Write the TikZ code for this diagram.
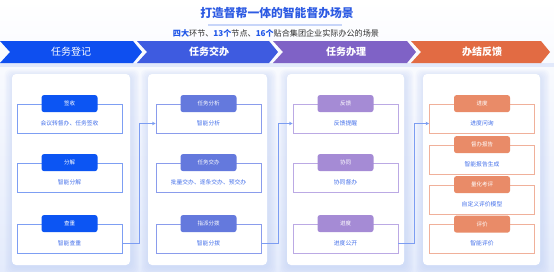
\documentclass[tikz,border=0pt]{standalone}
\usepackage{fontspec}
\setmainfont{Noto Sans CJK SC}
\usetikzlibrary{arrows.meta, positioning, calc}

\definecolor{titleblue}{HTML}{2D5BE3}
\definecolor{hlblue}{HTML}{1F56E8}
\definecolor{subgray}{HTML}{2E2E2E}
\definecolor{bgblue}{HTML}{E4EBFC}
\definecolor{shadowblue}{HTML}{B9CBF7}
\definecolor{descblue}{HTML}{4470EA}
\definecolor{linkblue}{HTML}{7C9DF2}
% column colours: chevron, tag, frame
\definecolor{chevA}{HTML}{0E4FF0}
\definecolor{chevB}{HTML}{3E5BE0}
\definecolor{chevC}{HTML}{7F62C6}
\definecolor{chevD}{HTML}{E26B43}
\definecolor{tagA}{HTML}{0C55F3}
\definecolor{tagB}{HTML}{6479DD}
\definecolor{tagC}{HTML}{A58BD5}
\definecolor{tagD}{HTML}{E98B68}
\definecolor{frameA}{HTML}{7D9EF3}
\definecolor{frameB}{HTML}{8A9CEC}
\definecolor{frameC}{HTML}{BBA9E4}
\definecolor{frameD}{HTML}{F0B09A}

\begin{document}
\begin{tikzpicture}[x=1pt, y=-1pt,
		box/.style={draw=#1, line width=0.8pt, minimum width=105pt, minimum height=29pt, inner sep=0pt},
		tag/.style={fill=#1, rounded corners=2.5pt, text=white, minimum width=56pt, minimum height=17pt, inner sep=0pt, font=\fontsize{5.5}{6}\selectfont},
		desc/.style={text=descblue, inner sep=0pt, font=\fontsize{5.8}{6}\selectfont},
		phase/.style={text=white, inner sep=0pt, font=\fontsize{10}{12}\selectfont},
		link/.style={draw=linkblue, line width=0.8pt, -{Stealth[length=3.5pt,width=3.5pt]}}]
		
		\useasboundingbox (0,0) rectangle (554,271);
		
		% Background
		\shade[top color=white, bottom color=bgblue] (0,0) rectangle (554,271);
		
		% Title
		\node[text=titleblue, font=\fontsize{11.8}{13}\selectfont\bfseries] (title) at (277,13) {打造督帮一体的智能督办场景};
		\fill[shadowblue!80] (208,24.3) rectangle (342,25.8);
		\node[text=subgray, font=\fontsize{8.1}{9}\selectfont] (subtitle) at (276,33.5)
		{{\color{hlblue}\bfseries 四大}环节、{\color{hlblue}\bfseries 13个}节点、{\color{hlblue}\bfseries 16个}贴合集团企业实际办公的场景};
		
		% Chevron band
		\fill[shadowblue, opacity=0.35] (0,63) rectangle (554,67);
		\fill[chevA] (0,41) -- (133,41) -- (142,52) -- (133,63) -- (0,63) -- (10,52) -- cycle;
		\fill[chevB] (137,41) -- (269,41) -- (278,52) -- (269,63) -- (137,63) -- (147,52) -- cycle;
		\fill[chevC] (273,41) -- (407,41) -- (416,52) -- (407,63) -- (273,63) -- (283,52) -- cycle;
		\fill[chevD] (411,41) -- (541,41) -- (550,52) -- (541,63) -- (411,63) -- (421,52) -- cycle;
		\node[phase] (ph1) at (71,52) {任务登记};
		\node[phase, font=\fontsize{10}{12}\selectfont\bfseries] (ph2) at (209,52) {任务交办};
		\node[phase, font=\fontsize{10}{12}\selectfont\bfseries] (ph3) at (346,52) {任务办理};
		\node[phase, font=\fontsize{10}{12}\selectfont\bfseries] (ph4) at (482,52) {办结反馈};
		
		% Cards with soft shadow
		\foreach \xa/\xb in {12/130,148/267,287/404,423/540} {
			\foreach \i in {1,...,6} {
				\fill[shadowblue, opacity=0.08, rounded corners=6pt]
				(\xa-\i*1.4+1,74-\i*1.1+2) rectangle (\xb+\i*1.4+1,265+\i*1.4+2);
			}
			\fill[white, rounded corners=4pt] (\xa,74) rectangle (\xb,265);
		}
		
		% Column 1
		\foreach \n/\y/\head/\txt in {1/118.5/签收/会议转督办、任务签收, 2/177.5/分解/智能分解, 3/238.5/查重/智能查重} {
			\node[box=frameA] (dj\n) at (69.5,\y) {};
			\node[tag=tagA] (djt\n) at (dj\n.north) {\head};
			\node[desc] (djd\n) at ([yshift=-4.5pt]dj\n.center) {\txt};
		}
		
		% Column 2
		\foreach \n/\y/\head/\txt in {1/118.5/任务分析/智能分析, 2/177.5/任务交办/批量交办、逐条交办、预交办, 3/238.5/指派分拨/智能分拨} {
			\node[box=frameB] (jb\n) at (208.5,\y) {};
			\node[tag=tagB] (jbt\n) at (jb\n.north) {\head};
			\node[desc] (jbd\n) at ([yshift=-4.5pt]jb\n.center) {\txt};
		}
		
		% Column 3
		\foreach \n/\y/\head/\txt in {1/118.5/反馈/反馈提醒, 2/177.5/协同/协同督办, 3/238.5/进度/进度公开} {
			\node[box=frameC] (bl\n) at (345.5,\y) {};
			\node[tag=tagC] (blt\n) at (bl\n.north) {\head};
			\node[desc] (bld\n) at ([yshift=-4.5pt]bl\n.center) {\txt};
		}
		
		% Column 4
		\foreach \n/\y/\head/\txt in {1/118.5/进度/进度问询, 2/159.5/督办报告/智能报告生成, 3/199.5/量化考评/自定义评价模型, 4/239/评价/智能评价} {
			\node[box=frameD] (fk\n) at (482,\y) {};
			\node[tag=tagD] (fkt\n) at (fk\n.north) {\head};
			\node[desc] (fkd\n) at ([yshift=-4.5pt]fk\n.center) {\txt};
		}
		
		% Hand-over links
		\draw[link] ([yshift=-5pt]dj3.east) -- ++(17,0) |- ([yshift=-5pt]jb1.west);
		\draw[link] ([yshift=-5pt]jb3.east) -- ++(17,0) |- ([yshift=-5pt]bl1.west);
		\draw[link] ([yshift=-5pt]bl3.east) -- ++(16,0) |- ([yshift=-5pt]fk1.west);
		
	\end{tikzpicture}
\end{document}
